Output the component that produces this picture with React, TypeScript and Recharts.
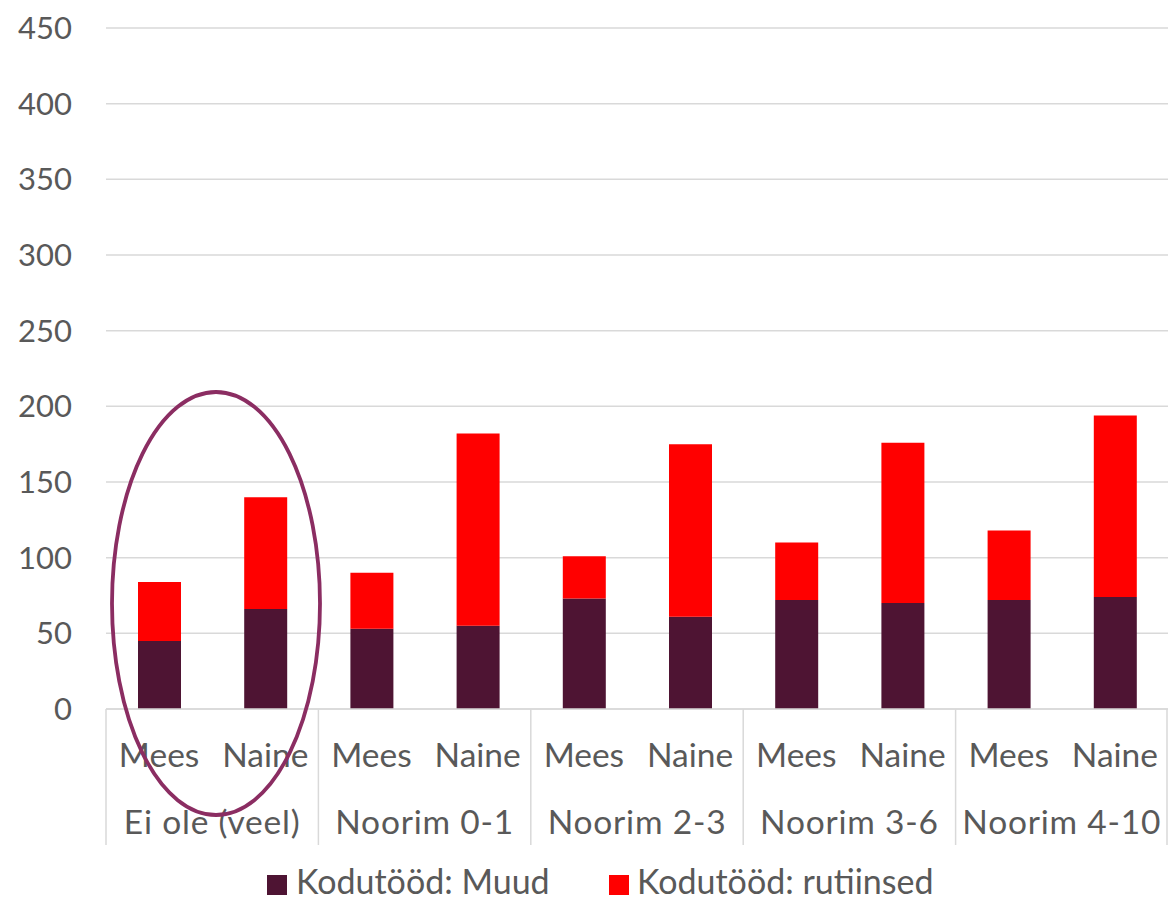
import React from "react";
import { BarChart, Bar, XAxis, YAxis, CartesianGrid, Legend } from "recharts";

const groups = ["Ei ole (veel)", "Noorim 0-1", "Noorim 2-3", "Noorim 3-6", "Noorim 4-10"];
const sexes = ["Mees", "Naine"];
const muud = [45, 66, 53, 55, 73, 61, 72, 70, 72, 74];
const rutiinsed = [39, 74, 37, 127, 28, 114, 38, 106, 46, 120];
const yTicks = [0, 50, 100, 150, 200, 250, 300, 350, 400, 450];
const seriesNames = ["Kodutööd: Muud", "Kodutööd: rutiinsed"];

const data = muud.map((m, i) => ({
  key: `${sexes[i % 2]}-${groups[Math.floor(i / 2)]}`,
  sex: sexes[i % 2],
  group: groups[Math.floor(i / 2)],
  muud: m,
  rutiinsed: rutiinsed[i],
}));

const W = 1168;
const H = 902;
const FONT = "Lato, 'Open Sans', sans-serif";
const TEXT = "#595959";
const GRID = "#D9D9D9";
const DARK = "#4E1433";
const RED = "#FF0000";
const YAXIS_W = 106;
const BAND = (W - YAXIS_W) / data.length;
const XFS = 33.5;
const LEGEND_H = 53;

const XTick = (props: any) => {
  const { x, y, index } = props;
  const d = data[index];
  if (!d) return null;
  const isFirst = index % 2 === 0;
  return (
    <g>
      <text x={x} y={y + 46} dy="0.36em" textAnchor="middle" fill={TEXT} fontSize={XFS} fontFamily={FONT}>
        {d.sex}
      </text>
      {isFirst && (
        <>
          <text x={x + BAND / 2} y={y + 113} dy="0.36em" textAnchor="middle" fill={TEXT} fontSize={XFS} fontFamily={FONT} letterSpacing={0.8}>
            {d.group}
          </text>
          <line x1={x - BAND / 2} x2={x - BAND / 2} y1={y} y2={y + 136} stroke={GRID} strokeWidth={1.5} />
        </>
      )}
      {index === data.length - 1 && (
        <line x1={x + BAND / 2 - 1} x2={x + BAND / 2 - 1} y1={y} y2={y + 136} stroke={GRID} strokeWidth={1.5} />
      )}
    </g>
  );
};

const legendPos = [
  { sq: 267, tx: 296 },
  { sq: 609, tx: 637 },
];

const LegendContent = () => (
  <div style={{ position: "relative", width: W, height: LEGEND_H, fontFamily: FONT, color: TEXT, fontSize: 34 }}>
    {[DARK, RED].map((c, i) => (
      <React.Fragment key={i}>
        <span style={{ position: "absolute", left: legendPos[i].sq, top: 26, width: 20, height: 20, background: c }} />
        <span style={{ position: "absolute", left: legendPos[i].tx, top: 11, height: 41, lineHeight: "41px", whiteSpace: "nowrap" }}>
          {seriesNames[i]}
        </span>
      </React.Fragment>
    ))}
  </div>
);

export default function App() {
  return (
    <div style={{ position: "relative", width: W, height: H, background: "#fff" }}>
      <style>{`body{margin:0;}`}</style>
      <BarChart width={W} height={H} data={data} margin={{ top: 28, right: 0, left: 0, bottom: 0 }} barSize={43}>
        <CartesianGrid vertical={false} stroke={GRID} strokeWidth={1.5} />
        <XAxis
          dataKey="key"
          interval={0}
          tickLine={false}
          tickSize={0}
          tickMargin={0}
          height={140}
          axisLine={{ stroke: GRID, strokeWidth: 1.5 }}
          tick={<XTick />}
        />
        <YAxis
          width={YAXIS_W}
          domain={[0, 450]}
          ticks={yTicks}
          axisLine={false}
          tickLine={false}
          tickSize={0}
          tickMargin={34}
          tick={{ fill: TEXT, fontSize: 31, fontFamily: FONT }}
        />
        <Legend verticalAlign="bottom" content={<LegendContent />} />
        <Bar dataKey="muud" name={seriesNames[0]} stackId="a" fill={DARK} isAnimationActive={false} />
        <Bar dataKey="rutiinsed" name={seriesNames[1]} stackId="a" fill={RED} isAnimationActive={false} />
      </BarChart>
      <svg width={W} height={H} style={{ position: "absolute", left: 0, top: 0, pointerEvents: "none" }}>
        <ellipse cx={216} cy={603.5} rx={104} ry={211.5} fill="none" stroke="#8B2D62" strokeWidth={3.8} />
      </svg>
    </div>
  );
}
